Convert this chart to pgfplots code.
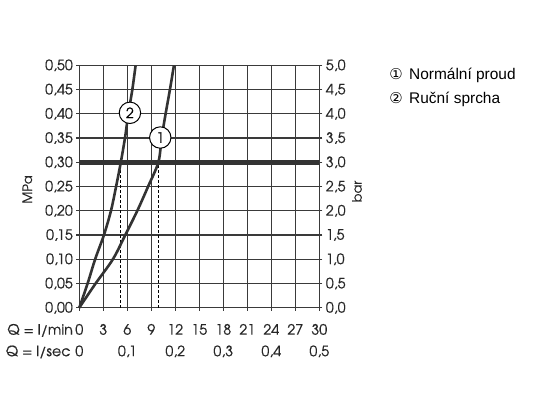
\documentclass[border=0pt]{standalone}
\usepackage{fontspec}
\setmainfont{TeX Gyre Adventor}[FakeBold=0.5]
\newfontfamily\legfont{Liberation Sans}
\newfontfamily\symfont{DejaVu Sans}
\usepackage{pgfplots}
\pgfplotsset{compat=1.18}
\definecolor{ink}{HTML}{333333}
\definecolor{gridc}{HTML}{3A3A3A}
\newcommand{\tfont}{\fontsize{14.3}{15}\selectfont}
\begin{document}
\begin{tikzpicture}
\useasboundingbox (0,0) rectangle (539bp,409bp);
\begin{axis}[
  name=ax, at={(79.3bp,101.3bp)}, anchor=south west,
  scale only axis, width=240bp, height=242.4bp,
  xmin=0, xmax=30, ymin=0, ymax=0.5,
  xtick={0,3,6,9,12,15,18,21,24,27,30},
  ytick={0,0.05,0.1,0.15,0.2,0.25,0.3,0.35,0.4,0.45,0.5},
  xtick pos=bottom, ytick pos=left,
  tick align=outside, major tick length=3bp,
  grid=major, grid style={gridc, line width=1.4bp},
  axis line style={gridc, line width=1.4bp},
  tick style={gridc, line width=1.2bp},
  /pgf/number format/assume math mode=true,
  ticklabel style={font=\tfont, text=black!85},
  xticklabel style={anchor=base, yshift=-24bp},
  yticklabel style={/pgf/number format/.cd, fixed, fixed zerofill, precision=2, use comma},
  clip=false,
]
% thick 0.3 MPa line
\addplot[ink, line width=4.7bp, forget plot] coordinates {(0,0.3) (30,0.3)};
% dashed helper lines
\addplot[black, dashed, line width=0.9bp, dash pattern=on 3bp off 2bp] coordinates {(5.15,0) (5.15,0.285)};
\addplot[black, dashed, line width=0.9bp, dash pattern=on 3bp off 2bp] coordinates {(9.88,0) (9.88,0.30)};
% curve 1: Normalni proud
\addplot[ink, line width=2.6bp, smooth, tension=0.55] coordinates {
 (0,0) (2.04,0.05) (4.2,0.10) (5.75,0.15) (7.25,0.20) (8.6,0.25) (9.88,0.30)
 (10.29,0.35) (10.79,0.40) (11.33,0.45) (11.83,0.50)};
% curve 2: Rucni sprcha
\addplot[ink, line width=2.6bp, smooth, tension=0.5] coordinates {
 (0,0) (1.04,0.05) (1.98,0.10) (3.08,0.15) (3.96,0.20) (4.6,0.25) (5.19,0.30)
 (5.71,0.35) (6.13,0.40) (6.63,0.45) (7.04,0.50)};
\node[circle, draw=black, line width=1bp, fill=white, minimum size=21.4bp, inner sep=0pt, font=\tfont] at (axis cs:10.12,0.351) {1};
\node[circle, draw=black, line width=1bp, fill=white, minimum size=21.4bp, inner sep=0pt, font=\tfont] at (axis cs:6.33,0.402) {2};
% row labels and second row of x labels
\node[anchor=base east, inner sep=0pt, text=black!85, font=\tfont] at ([xshift=-6.2bp, yshift=-27bp]axis cs:0,0) {Q = l/min};
\node[anchor=base east, inner sep=0pt, text=black!85, font=\tfont] at ([xshift=-8.6bp, yshift=-48.5bp]axis cs:0,0) {Q = l/sec};
\node[anchor=base, inner sep=0pt, text=black!85, font=\tfont] at ([yshift=-48.5bp]axis cs:0,0) {0};
\node[anchor=base, inner sep=0pt, text=black!85, font=\tfont] at ([yshift=-48.5bp]axis cs:6,0) {0,1};
\node[anchor=base, inner sep=0pt, text=black!85, font=\tfont] at ([yshift=-48.5bp]axis cs:12,0) {0,2};
\node[anchor=base, inner sep=0pt, text=black!85, font=\tfont] at ([yshift=-48.5bp]axis cs:18,0) {0,3};
\node[anchor=base, inner sep=0pt, text=black!85, font=\tfont] at ([yshift=-48.5bp]axis cs:24,0) {0,4};
\node[anchor=base, inner sep=0pt, text=black!85, font=\tfont] at ([yshift=-48.5bp]axis cs:30,0) {0,5};
\node[rotate=90, inner sep=0pt, text=black!85, font=\fontsize{13}{13}\selectfont] at ([xshift=-52bp, yshift=-3bp]rel axis cs:0,0.5) {MPa};
\end{axis}
\begin{axis}[
  at={(79.3bp,101.3bp)}, anchor=south west,
  scale only axis, width=240bp, height=242.4bp,
  xmin=0, xmax=30, ymin=0, ymax=5,
  axis x line=none, axis y line*=right,
  ytick={0,0.5,1,1.5,2,2.5,3,3.5,4,4.5,5},
  tick align=outside, major tick length=3bp,
  axis line style={gridc, line width=1.4bp},
  tick style={gridc, line width=1.2bp},
  /pgf/number format/assume math mode=true,
  ticklabel style={font=\tfont, text=black!85},
  yticklabel style={/pgf/number format/.cd, fixed, fixed zerofill, precision=1, use comma},
  clip=false,
]
\node[rotate=90, inner sep=0pt, text=black!85, font=\fontsize{13}{13}\selectfont] at ([xshift=37.7bp, yshift=-5bp]rel axis cs:1,0.5) {bar};
\end{axis}
% legend
\node[anchor=base west, inner sep=0pt, font=\fontsize{15.5}{16}\legfont] at (409bp,409bp-80bp) {Normální proud};
\node[anchor=base west, inner sep=0pt, font=\fontsize{15.5}{16}\legfont] at (409bp,409bp-104bp) {Ruční sprcha};
\node[anchor=base, inner sep=0pt, font=\fontsize{15}{15}\symfont] at (396bp,409bp-79.5bp) {①};
\node[anchor=base, inner sep=0pt, font=\fontsize{15}{15}\symfont] at (396bp,409bp-103.5bp) {②};
\end{tikzpicture}
\end{document}
